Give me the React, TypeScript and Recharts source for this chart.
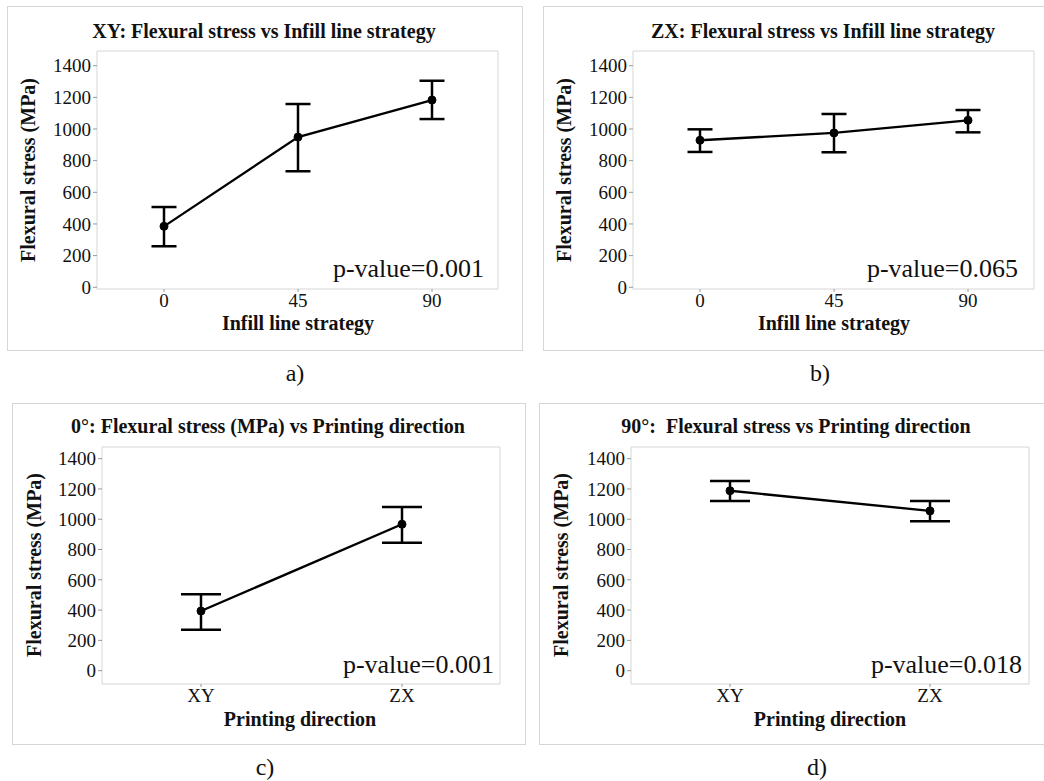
import React from 'react';
import { LineChart, Line, XAxis, YAxis, CartesianGrid, ErrorBar } from 'recharts';

// Infill line strategy panels (a, b)
const infillCats = ['0', '45', '90'];
const xyMean = [385, 949, 1183];
const xyLow = [259, 733, 1063];
const xyHigh = [507, 1158, 1305];
const zxMean = [929, 975, 1055];
const zxLow = [855, 853, 979];
const zxHigh = [998, 1095, 1120];

// Printing direction panels (c, d)
const dirCats = ['XY', 'ZX'];
const deg0Mean = [394, 967];
const deg0Low = [271, 845];
const deg0High = [504, 1081];
const deg90Mean = [1188, 1055];
const deg90Low = [1121, 987];
const deg90High = [1253, 1121];

const yTicks = [0, 200, 400, 600, 800, 1000, 1200, 1400];

const SERIF = '"Liberation Serif", "Times New Roman", serif';
const FRAME = '#d6d6d6';

const buildRows = (cats: string[], mean: number[], low: number[], high: number[]) =>
  cats.map((c, i) => ({ cat: c, mean: mean[i], err: [mean[i] - low[i], high[i] - mean[i]] }));

interface PanelProps {
  frame: { x: number; y: number; w: number; h: number };
  plot: { left: number; top: number; right: number; bottom: number };
  pad: { left: number; right: number };
  domain: [number, number];
  rows: { cat: string; mean: number; err: number[] }[];
  cap: number;
}

const Panel: React.FC<PanelProps> = ({ frame, plot, pad, domain, rows, cap }) => {
  const yw = plot.left - frame.x;
  const xh = frame.y + frame.h - plot.bottom;
  return (
    <div style={{ position: 'absolute', left: frame.x, top: frame.y }}>
      <LineChart
        width={frame.w}
        height={frame.h}
        data={rows}
        margin={{ top: plot.top - frame.y, right: frame.x + frame.w - plot.right, left: 0, bottom: 0 }}
      >
        {/* grey box round the plot area */}
        <CartesianGrid
          stroke={FRAME}
          strokeWidth={1}
          horizontalCoordinatesGenerator={({ offset }: any) => [offset.top, offset.top + offset.height]}
          verticalCoordinatesGenerator={({ offset }: any) => [offset.left, offset.left + offset.width]}
        />
        <XAxis
          dataKey="cat"
          height={xh}
          padding={{ left: pad.left, right: pad.right }}
          axisLine={false}
          tickLine={{ stroke: '#999' }}
          tickSize={3}
          tick={{ fill: '#111', fontSize: 19, fontFamily: SERIF }}
        />
        <YAxis
          width={yw}
          domain={domain}
          ticks={yTicks}
          allowDataOverflow
          axisLine={false}
          tickLine={{ stroke: '#999' }}
          tickSize={4}
          tickMargin={2}
          tick={{ fill: '#111', fontSize: 19, fontFamily: SERIF }}
        />
        <Line
          type="linear"
          dataKey="mean"
          stroke="#000"
          strokeWidth={2.3}
          dot={{ r: 4, fill: '#000', stroke: '#000', strokeWidth: 1 }}
          isAnimationActive={false}
        >
          <ErrorBar dataKey="err" direction="y" width={cap} stroke="#000" strokeWidth={2.5} />
        </Line>
      </LineChart>
    </div>
  );
};

const Frame = ({ x, y, w, h }: { x: number; y: number; w: number; h: number }) => (
  <div style={{ position: 'absolute', left: x, top: y, width: w, height: h, border: `1px solid ${FRAME}`, boxSizing: 'border-box' }} />
);

export default function App() {
  const fa = { x: 7, y: 6, w: 516, h: 345 };
  const fb = { x: 543, y: 6, w: 560, h: 345 };
  const fc = { x: 12, y: 403, w: 514, h: 342 };
  const fd = { x: 539, y: 403, w: 560, h: 342 };

  const bold = { fontFamily: SERIF, fontWeight: 700, fontSize: 20, fill: '#111' } as const;
  const pv = { fontFamily: SERIF, fontSize: 26, fill: '#111', textAnchor: 'end' } as const;
  const cap = { fontFamily: SERIF, fontSize: 24, fill: '#111', textAnchor: 'middle' } as const;

  return (
    <div style={{ position: 'absolute', left: 0, top: 0, width: 1044, height: 781, overflow: 'hidden', background: '#fff' }}>
      <Frame {...fa} />
      <Frame {...fb} />
      <Frame {...fc} />
      <Frame {...fd} />

      <Panel
        frame={fa}
        plot={{ left: 97, top: 51, right: 498, bottom: 289 }}
        pad={{ left: 67, right: 66 }}
        domain={[-11, 1493]}
        rows={buildRows(infillCats, xyMean, xyLow, xyHigh)}
        cap={12.5}
      />
      <Panel
        frame={fb}
        plot={{ left: 633, top: 51, right: 1034, bottom: 289 }}
        pad={{ left: 67, right: 66 }}
        domain={[-11, 1493]}
        rows={buildRows(infillCats, zxMean, zxLow, zxHigh)}
        cap={12.5}
      />
      <Panel
        frame={fc}
        plot={{ left: 102, top: 447, right: 500, bottom: 684 }}
        pad={{ left: 99, right: 98 }}
        domain={[-88, 1477]}
        rows={buildRows(dirCats, deg0Mean, deg0Low, deg0High)}
        cap={20}
      />
      <Panel
        frame={fd}
        plot={{ left: 631, top: 447, right: 1029, bottom: 684 }}
        pad={{ left: 99, right: 99 }}
        domain={[-88, 1477]}
        rows={buildRows(dirCats, deg90Mean, deg90Low, deg90High)}
        cap={20}
      />

      <svg width={1044} height={781} style={{ position: 'absolute', left: 0, top: 0, pointerEvents: 'none' }}>
        {/* panel titles */}
        <text x={264} y={38} textAnchor="middle" {...bold}>XY: Flexural stress vs Infill line strategy</text>
        <text x={823} y={38} textAnchor="middle" {...bold}>ZX: Flexural stress vs Infill line strategy</text>
        <text x={268} y={433} textAnchor="middle" {...bold}>0°: Flexural stress (MPa) vs Printing direction</text>
        <text x={796} y={433} textAnchor="middle" {...bold} style={{ whiteSpace: 'pre' }}>90°:  Flexural stress vs Printing direction</text>

        {/* y axis titles */}
        <text x={28} y={170} transform="rotate(-90 28 170)" textAnchor="middle" dominantBaseline="central" {...bold}>Flexural stress (MPa)</text>
        <text x={564} y={170} transform="rotate(-90 564 170)" textAnchor="middle" dominantBaseline="central" {...bold}>Flexural stress (MPa)</text>
        <text x={34} y={565} transform="rotate(-90 34 565)" textAnchor="middle" dominantBaseline="central" {...bold}>Flexural stress (MPa)</text>
        <text x={561} y={565} transform="rotate(-90 561 565)" textAnchor="middle" dominantBaseline="central" {...bold}>Flexural stress (MPa)</text>

        {/* x axis titles */}
        <text x={298} y={330} textAnchor="middle" {...bold}>Infill line strategy</text>
        <text x={834} y={330} textAnchor="middle" {...bold}>Infill line strategy</text>
        <text x={300} y={726} textAnchor="middle" {...bold}>Printing direction</text>
        <text x={830} y={726} textAnchor="middle" {...bold}>Printing direction</text>

        {/* p-values */}
        <text x={484} y={277} {...pv}>p-value=0.001</text>
        <text x={1018} y={277} {...pv}>p-value=0.065</text>
        <text x={494} y={673} {...pv}>p-value=0.001</text>
        <text x={1022} y={673} {...pv}>p-value=0.018</text>

        {/* captions */}
        <text x={295} y={381} {...cap}>a)</text>
        <text x={820} y={381} {...cap}>b)</text>
        <text x={265} y={775} {...cap}>c)</text>
        <text x={817} y={775} {...cap}>d)</text>
      </svg>
    </div>
  );
}
